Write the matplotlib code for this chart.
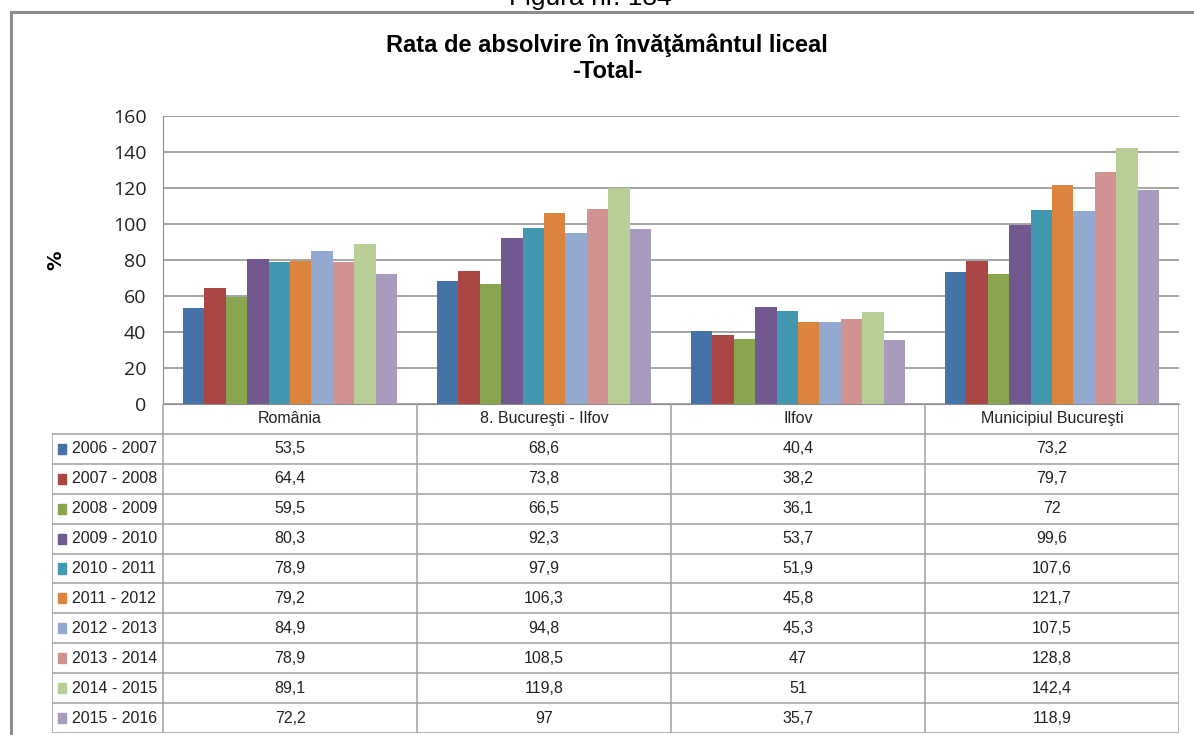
import matplotlib
matplotlib.use('Agg')
import matplotlib.pyplot as plt
from matplotlib.patches import Rectangle

# Data
categories = ['România', '8. Bucureşti - Ilfov', 'Ilfov', 'Municipiul Bucureşti']
years = ['2006 - 2007', '2007 - 2008', '2008 - 2009', '2009 - 2010', '2010 - 2011',
         '2011 - 2012', '2012 - 2013', '2013 - 2014', '2014 - 2015', '2015 - 2016']
romania = [53.5, 64.4, 59.5, 80.3, 78.9, 79.2, 84.9, 78.9, 89.1, 72.2]
buc_ilfov = [68.6, 73.8, 66.5, 92.3, 97.9, 106.3, 94.8, 108.5, 119.8, 97]
ilfov = [40.4, 38.2, 36.1, 53.7, 51.9, 45.8, 45.3, 47, 51, 35.7]
mun_buc = [73.2, 79.7, 72, 99.6, 107.6, 121.7, 107.5, 128.8, 142.4, 118.9]
labels = [['53,5', '64,4', '59,5', '80,3', '78,9', '79,2', '84,9', '78,9', '89,1', '72,2'],
          ['68,6', '73,8', '66,5', '92,3', '97,9', '106,3', '94,8', '108,5', '119,8', '97'],
          ['40,4', '38,2', '36,1', '53,7', '51,9', '45,8', '45,3', '47', '51', '35,7'],
          ['73,2', '79,7', '72', '99,6', '107,6', '121,7', '107,5', '128,8', '142,4', '118,9']]
colors = ['#4572A7', '#AA4643', '#89A54E', '#71588F', '#4198AF',
          '#DB843D', '#93A9CF', '#D19392', '#B9CD96', '#A99BBD']

values = [romania, buc_ilfov, ilfov, mun_buc]

W, H = 1194, 735
fig = plt.figure(figsize=(W / 100, H / 100), dpi=100)
narrow = ['Liberation Sans Narrow', 'Liberation Sans', 'DejaVu Sans']

def px(x0, y0, x1, y1):
    return [x0 / W, 1 - y1 / H, (x1 - x0) / W, (y1 - y0) / H]

# outer frame
fig.add_artist(Rectangle((11 / W, -0.1), 1.2, 1 - 12 / H + 0.1, transform=fig.transFigure,
                         fill=False, edgecolor='#8c8c8c', linewidth=2.2))
fig.text(590 / W, 1 + 2 / H, 'Figura nr. 184', ha='center', va='center', fontsize=19,
         family=narrow)

fig.text(607 / W, 1 - 45 / H, 'Rata de absolvire în învăţământul liceal', ha='center',
         va='center', fontsize=17, fontweight='bold', family=narrow)
fig.text(607 / W, 1 - 71 / H, '-Total-', ha='center', va='center', fontsize=17,
         fontweight='bold', family=narrow)

# chart
ax = fig.add_axes(px(163, 116, 1179, 404))
bw = 0.0846
n = len(years)
for i in range(n):
    xs = [c + 0.5 + (i - (n - 1) / 2) * bw for c in range(len(categories))]
    ax.bar(xs, [v[i] for v in values], width=bw, color=colors[i], zorder=3)
ax.set_xlim(0, 4)
ax.set_ylim(0, 160)
ax.set_yticks(range(0, 161, 20))
ax.set_xticks([])
ax.tick_params(axis='y', length=0, pad=12, labelsize=14, labelcolor='#222222')
for t in ax.get_yticklabels():
    t.set_family(['Open Sans', 'DejaVu Sans'])
ax.grid(axis='y', color='#8c8c8c', linewidth=1.1, zorder=0)
for s in ['top', 'right']:
    ax.spines[s].set_visible(False)
ax.spines['left'].set_color('#8c8c8c')
ax.spines['bottom'].set_color('#8c8c8c')
ax.set_ylabel('%', fontsize=14, fontweight='bold', labelpad=34)

# data table
lw_px = 111 / 254
tx = fig.add_axes(px(52, 404, 1179, 733))
tx.set_xlim(-lw_px, 4)
tx.set_ylim(11, 0)
tx.axis('off')
lc = '#a0a0a0'
for c in range(5):
    tx.plot([c, c], [0, 11], color=lc, linewidth=1.1)
tx.plot([-lw_px, -lw_px], [1, 11], color=lc, linewidth=1.1)
for r in range(1, 12):
    tx.plot([-lw_px, 4], [r, r], color=lc, linewidth=1.1)
for c, name in enumerate(categories):
    tx.text(c + 0.5, 0.5, name, ha='center', va='center', fontsize=11.5, family=narrow,
            color='#222222')
    for r in range(n):
        tx.text(c + 0.5, r + 1.5, labels[c][r], ha='center', va='center', fontsize=11.5,
                family=narrow, color='#222222')
for r in range(n):
    tx.add_patch(Rectangle((-lw_px + 0.022, r + 1.33), 0.033, 0.34, color=colors[r]))
    tx.text(-lw_px + 0.078, r + 1.5, years[r], ha='left', va='center', fontsize=11.5,
            family=narrow, color='#222222')

fig.savefig('out.png', dpi=100)
